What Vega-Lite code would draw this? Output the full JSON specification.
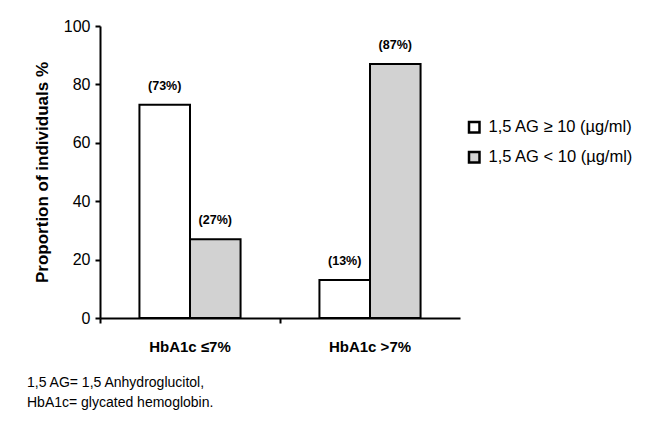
{
  "$schema": "https://vega.github.io/schema/vega-lite/v6.json",
  "autosize": {"type": "none"},
  "width": 360,
  "height": 292,
  "padding": {"left": 100, "top": 26, "right": 190, "bottom": 107},
  "background": "white",
  "config": {"view": {"stroke": null}, "font": "Liberation Sans"},
  "title": {
    "text": ["1,5 AG= 1,5 Anhydroglucitol,", "HbA1c= glycated hemoglobin."],
    "orient": "bottom",
    "anchor": "start",
    "frame": "group",
    "dx": -73,
    "offset": 22,
    "fontSize": 14,
    "fontWeight": "normal",
    "lineHeight": 20,
    "color": "black",
    "font": "Liberation Sans"
  },
  "data": {
    "values": [
      {"group": "HbA1c ≤7%", "ag": "1,5 AG ≥ 10 (µg/ml)", "value": 73, "label": "(73%)"},
      {"group": "HbA1c ≤7%", "ag": "1,5 AG < 10 (µg/ml)", "value": 27, "label": "(27%)"},
      {"group": "HbA1c >7%", "ag": "1,5 AG ≥ 10 (µg/ml)", "value": 13, "label": "(13%)"},
      {"group": "HbA1c >7%", "ag": "1,5 AG < 10 (µg/ml)", "value": 87, "label": "(87%)"}
    ]
  },
  "encoding": {
    "x": {
      "field": "group", "type": "nominal", "sort": null,
      "scale": {"paddingInner": 0, "paddingOuter": 0},
      "axis": {
        "title": null, "labelAngle": 0, "bandPosition": 0,
        "labelFontSize": 15, "labelFontWeight": "bold", "labelColor": "black",
        "labelPadding": 16, "tickSize": 5, "tickColor": "black", "tickWidth": 2,
        "domainColor": "black", "domainWidth": 2, "labelFont": "Liberation Sans"
      }
    },
    "xOffset": {
      "field": "ag", "type": "nominal", "sort": null,
      "scale": {"paddingInner": 0, "paddingOuter": 0.78}
    },
    "y": {
      "field": "value", "type": "quantitative",
      "scale": {"domain": [0, 100], "nice": false},
      "axis": {
        "title": "Proportion of individuals %", "titleFontSize": 17, "titleFontWeight": "bold",
        "titleColor": "black", "titlePadding": 12, "titleFont": "Liberation Sans",
        "values": [0, 20, 40, 60, 80, 100], "grid": false,
        "labelFontSize": 16, "labelColor": "black", "labelPadding": 5, "labelFont": "Liberation Sans",
        "tickSize": 5, "tickColor": "black", "tickWidth": 2,
        "domainColor": "black", "domainWidth": 2
      }
    }
  },
  "layer": [
    {
      "mark": {"type": "bar", "stroke": "black", "strokeWidth": 2},
      "encoding": {
        "fill": {
          "field": "ag", "type": "nominal", "sort": null,
          "scale": {"range": ["white", "#d2d2d2"]},
          "legend": {
            "title": null, "orient": "none", "legendX": 366, "legendY": 93,
            "symbolType": "square", "symbolSize": 110, "symbolStrokeWidth": 2.5,
            "symbolStrokeColor": "black", "labelFontSize": 16.5, "labelColor": "black",
            "labelFont": "Liberation Sans", "rowPadding": 9, "labelOffset": 6
          }
        }
      }
    },
    {
      "mark": {"type": "text", "baseline": "bottom", "dy": -12, "fontSize": 12.5, "fontWeight": "bold", "color": "black", "font": "Liberation Sans"},
      "encoding": {"text": {"field": "label"}}
    }
  ]
}
